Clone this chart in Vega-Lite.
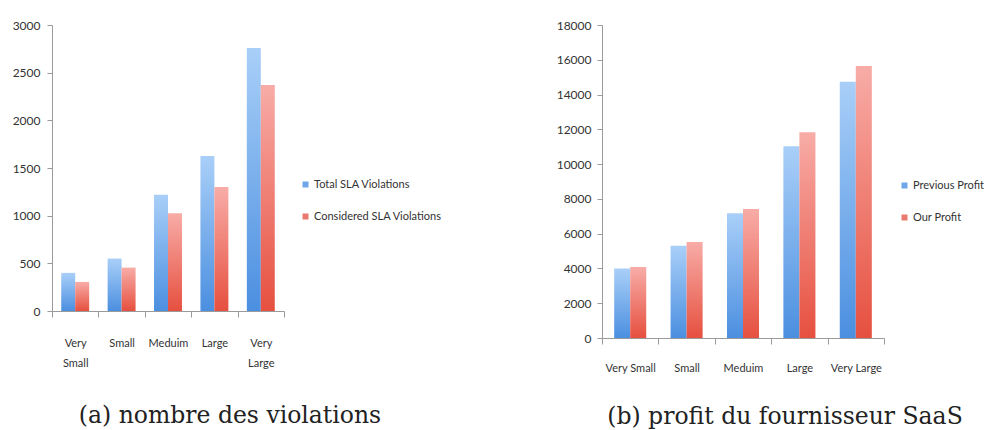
{
  "$schema": "https://vega.github.io/schema/vega-lite/v6.json",
  "background": "white",
  "padding": {"left": 12, "top": 19, "right": 0, "bottom": 0},
  "spacing": 114,
  "resolve": {"scale": {"color": "independent", "x": "independent", "y": "independent", "xOffset": "independent"}, "legend": {"color": "independent"}},
  "config": {
    "view": {"stroke": null},
    "axis": {
      "labelFont": "Lato",
      "labelColor": "#333",
      "domainColor": "#9a9a9a",
      "tickColor": "#9a9a9a",
      "grid": false,
      "title": null
    },
    "legend": {
      "labelFont": "Lato",
      "labelFontSize": 11,
      "labelColor": "#333",
      "labelOffset": 3,
      "symbolType": "square",
      "symbolSize": 36,
      "symbolStrokeWidth": 0,
      "symbolOpacity": 1,
      "rowPadding": 20,
      "title": null
    }
  },
  "datasets": {
    "viol": [
      {"size": "Very Small", "series": "Total SLA Violations", "value": 400},
      {"size": "Very Small", "series": "Considered SLA Violations", "value": 305},
      {"size": "Small", "series": "Total SLA Violations", "value": 550},
      {"size": "Small", "series": "Considered SLA Violations", "value": 455},
      {"size": "Meduim", "series": "Total SLA Violations", "value": 1220},
      {"size": "Meduim", "series": "Considered SLA Violations", "value": 1025},
      {"size": "Large", "series": "Total SLA Violations", "value": 1625},
      {"size": "Large", "series": "Considered SLA Violations", "value": 1300},
      {"size": "Very Large", "series": "Total SLA Violations", "value": 2760},
      {"size": "Very Large", "series": "Considered SLA Violations", "value": 2370}
    ],
    "profit": [
      {"size": "Very Small", "series": "Previous Profit", "value": 4000},
      {"size": "Very Small", "series": "Our Profit", "value": 4080},
      {"size": "Small", "series": "Previous Profit", "value": 5300},
      {"size": "Small", "series": "Our Profit", "value": 5520},
      {"size": "Meduim", "series": "Previous Profit", "value": 7170},
      {"size": "Meduim", "series": "Our Profit", "value": 7420},
      {"size": "Large", "series": "Previous Profit", "value": 11030},
      {"size": "Large", "series": "Our Profit", "value": 11830},
      {"size": "Very Large", "series": "Previous Profit", "value": 14730},
      {"size": "Very Large", "series": "Our Profit", "value": 15640}
    ]
  },
  "hconcat": [
    {
      "width": 232,
      "height": 286,
      "data": {"name": "viol"},
      "title": {
        "text": "(a)  nombre des violations",
        "orient": "bottom",
        "frame": "group",
        "anchor": "middle",
        "dx": 62,
        "offset": 36,
        "font": "DejaVu Serif",
        "fontSize": 23.5,
        "fontWeight": "normal",
        "color": "#222"
      },
      "encoding": {
        "x": {
          "field": "size",
          "type": "nominal",
          "sort": ["Very Small", "Small", "Meduim", "Large", "Very Large"],
          "scale": {"paddingInner": 0, "paddingOuter": 0},
          "axis": {
            "labelAngle": 0,
            "labelExpr": "split(datum.label, ' ')",
            "labelFontSize": 11,
            "labelLineHeight": 20,
            "labelPadding": 20,
            "tickBand": "extent",
            "tickSize": 6
          }
        },
        "xOffset": {
          "field": "series",
          "type": "nominal",
          "scale": {"domain": ["Total SLA Violations", "Considered SLA Violations"], "paddingInner": 0, "paddingOuter": 0.66}
        },
        "y": {
          "field": "value",
          "type": "quantitative",
          "scale": {"domain": [0, 3000]},
          "axis": {
            "values": [0, 500, 1000, 1500, 2000, 2500, 3000],
            "format": "d",
            "labelFontSize": 12,
            "tickSize": 5,
            "labelPadding": 7
          }
        }
      },
      "layer": [
        {
          "transform": [{"filter": {"field": "series", "equal": "Total SLA Violations"}}],
          "mark": {
            "type": "bar",
            "color": {
              "gradient": "linear", "x1": 0, "y1": 0, "x2": 0, "y2": 1,
              "stops": [{"offset": 0, "color": "#a9cff8"}, {"offset": 1, "color": "#4b8fe0"}]
            }
          }
        },
        {
          "transform": [{"filter": {"field": "series", "equal": "Considered SLA Violations"}}],
          "mark": {
            "type": "bar",
            "color": {
              "gradient": "linear", "x1": 0, "y1": 0, "x2": 0, "y2": 1,
              "stops": [{"offset": 0, "color": "#f8aca7"}, {"offset": 1, "color": "#e6503f"}]
            }
          }
        },
        {
          "mark": {"type": "bar", "opacity": 0},
          "encoding": {
            "color": {
              "field": "series",
              "type": "nominal",
              "scale": {"domain": ["Total SLA Violations", "Considered SLA Violations"], "range": ["#6fa6e8", "#e97a70"]},
              "legend": {"orient": "none", "legendX": 248, "legendY": 154}
            }
          }
        }
      ]
    },
    {
      "width": 282,
      "height": 313,
      "data": {"name": "profit"},
      "title": {
        "text": "(b)  profit du fournisseur SaaS",
        "orient": "bottom",
        "frame": "group",
        "anchor": "middle",
        "dx": 42,
        "offset": 32,
        "font": "DejaVu Serif",
        "fontSize": 23.5,
        "fontWeight": "normal",
        "color": "#222"
      },
      "encoding": {
        "x": {
          "field": "size",
          "type": "nominal",
          "sort": ["Very Small", "Small", "Meduim", "Large", "Very Large"],
          "scale": {"paddingInner": 0, "paddingOuter": 0},
          "axis": {
            "labelAngle": 0,
            "labelFontSize": 11,
            "labelPadding": 18,
            "tickBand": "extent",
            "tickSize": 6
          }
        },
        "xOffset": {
          "field": "series",
          "type": "nominal",
          "scale": {"domain": ["Previous Profit", "Our Profit"], "paddingInner": 0, "paddingOuter": 0.76}
        },
        "y": {
          "field": "value",
          "type": "quantitative",
          "scale": {"domain": [0, 18000]},
          "axis": {
            "values": [0, 2000, 4000, 6000, 8000, 10000, 12000, 14000, 16000, 18000],
            "format": "d",
            "labelFontSize": 12,
            "tickSize": 5,
            "labelPadding": 6
          }
        }
      },
      "layer": [
        {
          "transform": [{"filter": {"field": "series", "equal": "Previous Profit"}}],
          "mark": {
            "type": "bar",
            "color": {
              "gradient": "linear", "x1": 0, "y1": 0, "x2": 0, "y2": 1,
              "stops": [{"offset": 0, "color": "#a9cff8"}, {"offset": 1, "color": "#4b8fe0"}]
            }
          }
        },
        {
          "transform": [{"filter": {"field": "series", "equal": "Our Profit"}}],
          "mark": {
            "type": "bar",
            "color": {
              "gradient": "linear", "x1": 0, "y1": 0, "x2": 0, "y2": 1,
              "stops": [{"offset": 0, "color": "#f8aca7"}, {"offset": 1, "color": "#e6503f"}]
            }
          }
        },
        {
          "mark": {"type": "bar", "opacity": 0},
          "encoding": {
            "color": {
              "field": "series",
              "type": "nominal",
              "scale": {"domain": ["Previous Profit", "Our Profit"], "range": ["#6fa6e8", "#e97a70"]},
              "legend": {"orient": "none", "legendX": 297, "legendY": 155}
            }
          }
        }
      ]
    }
  ]
}
